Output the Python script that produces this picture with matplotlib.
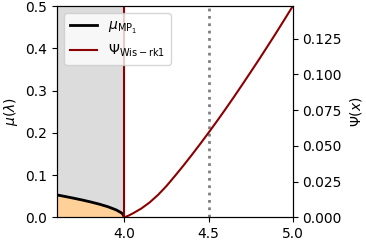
import numpy as np
import matplotlib
matplotlib.use("Agg")
import matplotlib.pyplot as plt

# density values (left axis)
mu_x = [3.60, 3.65, 3.70, 3.75, 3.80, 3.85, 3.90, 3.95, 3.98, 3.99, 4.00]
mu_y = [0.0531, 0.0493, 0.0453, 0.0411, 0.0365, 0.0314, 0.0255, 0.0179, 0.0113, 0.0080, 0.0]

# Psi curve (right axis)
psi_x = [4.0, 4.025, 4.05, 4.1, 4.15, 4.2, 4.25, 4.3, 4.35, 4.4, 4.45, 4.5,
         4.55, 4.6, 4.65, 4.7, 4.75, 4.8, 4.85, 4.9, 4.95, 5.0]
psi_y = [0.0, 0.0013, 0.0028, 0.0062, 0.0105, 0.0158, 0.0220, 0.0290, 0.0362, 0.0437, 0.0514, 0.0593,
         0.0674, 0.0757, 0.0842, 0.0929, 0.1017, 0.1106, 0.1197, 0.1289, 0.1383, 0.1478]

edge = 4.0
marker_x = 4.5
x_lo, x_hi = 3.6, 5.0

fig = plt.figure(figsize=(3.66, 2.44), dpi=100)
ax = fig.add_axes([0.156, 0.109, 0.644, 0.866])

ax.axvspan(x_lo, edge, color="#dcdcdc", zorder=0)
ax.fill_between(mu_x, 0, mu_y, color="#ffd199", zorder=1)
l1, = ax.plot(mu_x, mu_y, color="black", lw=2, zorder=3, label=r"$\mu_{\mathrm{MP}_1}$")
ax.axvline(marker_x, color="gray", ls=":", lw=2, zorder=2)

ax.set_xlim(x_lo, x_hi)
ax.set_ylim(0, 0.5)
ax.set_xticks([4.0, 4.5, 5.0])
ax.set_yticks([0.0, 0.1, 0.2, 0.3, 0.4, 0.5])
ax.set_ylabel(r"$\mu(\lambda)$")

ax2 = ax.twinx()
ax2.axvline(edge, color="darkred", lw=1.5)
l2, = ax2.plot(psi_x, psi_y, color="darkred", lw=1.5, label=r"$\Psi_{\mathrm{Wis-rk1}}$")
ax2.set_ylim(0, max(psi_y))
ax2.set_yticks([0.0, 0.025, 0.05, 0.075, 0.1, 0.125])
ax2.set_ylabel(r"$\Psi(x)$")

ax2.legend(handles=[l1, l2], loc="upper left")

fig.savefig("out.png", dpi=100)
